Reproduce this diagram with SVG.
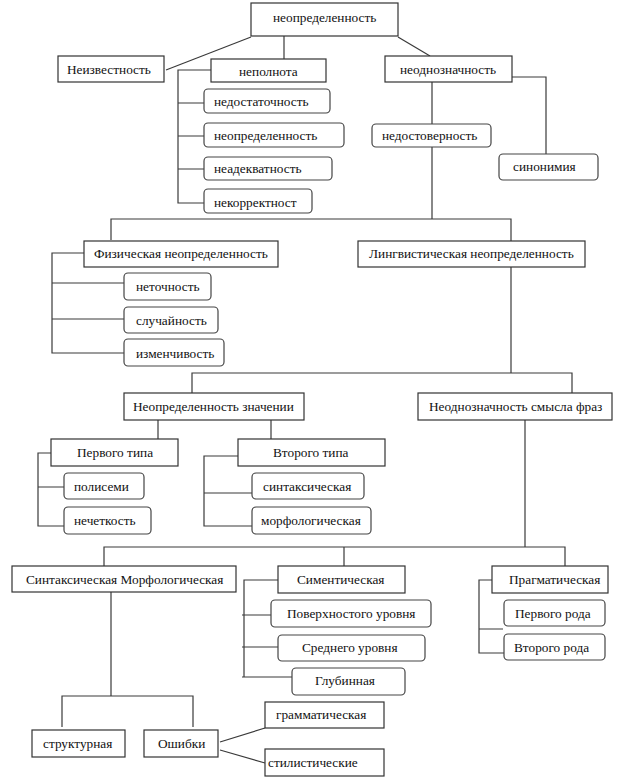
<svg xmlns="http://www.w3.org/2000/svg" width="623" height="783" viewBox="0 0 623 783">
<style>
.b{fill:#fff;stroke:#333;stroke-width:1.2}
.r{fill:#fff;stroke:#444;stroke-width:1.2}
text{font-family:"Liberation Serif","Times New Roman",serif;font-size:13.3px;fill:#111}
.c{fill:none;stroke:#3a3a3a;stroke-width:1.2}
</style>
<rect width="623" height="783" fill="#fff"/>
<g id="connectors">
<path class="c" d="M251,37 L166,70"/>
<path class="c" d="M284,36 V59"/>
<path class="c" d="M398,37 L430,56"/>
<path class="c" d="M211,70 H178 V203 H204 M178,103 H204 M178,136 H204 M178,169 H204"/>
<path class="c" d="M512,77 H546 V154"/>
<path class="c" d="M432,82 V124 M432,147 V219"/>
<path class="c" d="M111,240 V219 H511 V241"/>
<path class="c" d="M84,253 H52 V353 H124 M52,283 H124 M52,319 H124"/>
<path class="c" d="M511,267 V373"/>
<path class="c" d="M192,393 V373 H572 V393"/>
<path class="c" d="M158,420 V439 M271,420 V439"/>
<path class="c" d="M51,453 H38 V526 H64 M38,487 H64"/>
<path class="c" d="M238,456 H204 V526 H252 M204,493 H252"/>
<path class="c" d="M525,420 V547"/>
<path class="c" d="M104,566 V547 H565 V566 M344,547 V566"/>
<path class="c" d="M278,580 H244 V677 H292 M242,615 H271 M242,647 H278 M242,677 H244"/>
<path class="c" d="M492,580 H479 V653 H504 M479,629 H503"/>
<path class="c" d="M111,592 V696 M62,727 V696 H193 V727"/>
<path class="c" d="M220,742 L265,728 M220,750 L265,763"/>
</g>
<g id="n-root"><rect class="b" x="251" y="3" width="147" height="33"/><text x="273" y="22">неопределенность</text></g>
<g id="n-neizv"><rect class="b" x="58" y="56" width="106" height="26"/><text x="67" y="74">Неизвестность</text></g>
<g id="n-nepolnota"><rect class="b" x="211" y="59" width="115" height="23"/><text x="239" y="76">неполнота</text></g>
<g id="n-nedost"><rect class="r" x="204" y="89" width="126" height="24" rx="4"/><text x="214" y="106">недостаточность</text></g>
<g id="n-neopr2"><rect class="r" x="204" y="123" width="140" height="24" rx="4"/><text x="214" y="140">неопределенность</text></g>
<g id="n-neadek"><rect class="r" x="204" y="157" width="128" height="23" rx="4"/><text x="214" y="173">неадекватность</text></g>
<g id="n-nekorr"><rect class="r" x="204" y="189" width="108" height="24" rx="4"/><text x="214" y="207">некорректност</text></g>
<g id="n-neodnozn"><rect class="b" x="385" y="56" width="127" height="26"/><text x="400" y="74">неоднозначность</text></g>
<g id="n-nedostov"><rect class="r" x="372" y="124" width="119" height="23" rx="4"/><text x="382" y="140">недостоверность</text></g>
<g id="n-sinon"><rect class="r" x="499" y="154" width="99" height="26" rx="4"/><text x="513" y="171">синонимия</text></g>
<g id="n-fiz"><rect class="b" x="84" y="241" width="194" height="26"/><text x="94" y="258">Физическая неопределенность</text></g>
<g id="n-ling"><rect class="b" x="358" y="241" width="227" height="26"/><text x="369" y="258">Лингвистическая неопределенность</text></g>
<g id="n-netoch"><rect class="r" x="124" y="273" width="87" height="27" rx="4"/><text x="136" y="291">неточность</text></g>
<g id="n-sluch"><rect class="r" x="124" y="307" width="94" height="26" rx="4"/><text x="136" y="325">случайность</text></g>
<g id="n-izmen"><rect class="r" x="124" y="339" width="100" height="27" rx="4"/><text x="136" y="358">изменчивость</text></g>
<g id="n-neoprzn"><rect class="b" x="124" y="393" width="180" height="27"/><text x="133" y="411">Неопределенность значении</text></g>
<g id="n-neodnsm"><rect class="b" x="418" y="393" width="194" height="27"/><text x="429" y="411">Неоднозначность смысла фраз</text></g>
<g id="n-perv"><rect class="b" x="51" y="439" width="127" height="27"/><text x="77" y="457">Первого типа</text></g>
<g id="n-vtor"><rect class="b" x="238" y="439" width="147" height="27"/><text x="273" y="457">Второго типа</text></g>
<g id="n-polis"><rect class="r" x="64" y="473" width="80" height="26" rx="4"/><text x="74" y="491">полисеми</text></g>
<g id="n-nechet"><rect class="r" x="64" y="507" width="87" height="27" rx="4"/><text x="74" y="525">нечеткость</text></g>
<g id="n-sintaks"><rect class="r" x="252" y="473" width="112" height="26" rx="4"/><text x="263" y="491">синтаксическая</text></g>
<g id="n-morf"><rect class="r" x="252" y="507" width="119" height="27" rx="4"/><text x="261" y="525">морфологическая</text></g>
<g id="n-sintmorf"><rect class="b" x="12" y="566" width="224" height="26"/><text x="26" y="584">Синтаксическая Морфологическая</text></g>
<g id="n-siment"><rect class="b" x="278" y="566" width="127" height="27"/><text x="297" y="584">Симентическая</text></g>
<g id="n-pragm"><rect class="b" x="492" y="566" width="116" height="27"/><text x="509" y="584">Прагматическая</text></g>
<g id="n-poverh"><rect class="r" x="271" y="600" width="160" height="27" rx="4"/><text x="287" y="618">Поверхностого уровня</text></g>
<g id="n-sredn"><rect class="r" x="278" y="635" width="147" height="26" rx="4"/><text x="302" y="652">Среднего уровня</text></g>
<g id="n-glub"><rect class="r" x="292" y="668" width="113" height="27" rx="4"/><text x="315" y="685">Глубинная</text></g>
<g id="n-pervrod"><rect class="r" x="504" y="600" width="101" height="26" rx="4"/><text x="515" y="618">Первого рода</text></g>
<g id="n-vtorrod"><rect class="r" x="504" y="634" width="101" height="26" rx="4"/><text x="514" y="652">Второго рода</text></g>
<g id="n-strukt"><rect class="b" x="32" y="730" width="93" height="27"/><text x="43" y="748">структурная</text></g>
<g id="n-oshib"><rect class="b" x="144" y="730" width="74" height="27"/><text x="158" y="748">Ошибки</text></g>
<g id="n-gramm"><rect class="b" x="265" y="702" width="119" height="26"/><text x="276" y="719">грамматическая</text></g>
<g id="n-stil"><rect class="b" x="265" y="749" width="119" height="27"/><text x="268" y="767">стилистические</text></g>
</svg>
